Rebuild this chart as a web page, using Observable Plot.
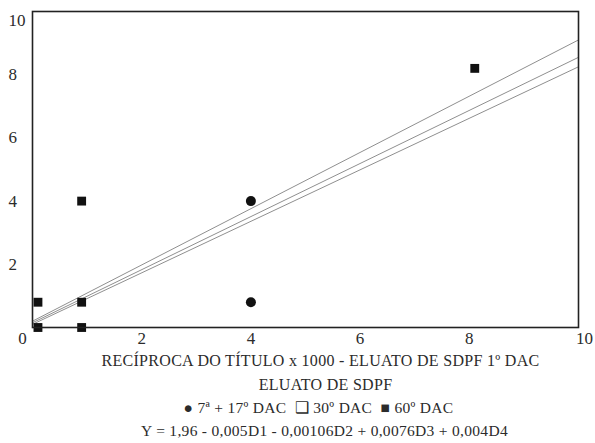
<!DOCTYPE html>
<html>
<head>
<meta charset="utf-8">
<script src="https://cdn.jsdelivr.net/npm/d3@7"></script>
<script src="https://cdn.jsdelivr.net/npm/@observablehq/plot@0.6"></script>
<style>
  html, body { margin: 0; padding: 0; background: #fff; }
  svg { display: block; }
  .cap text { letter-spacing: 0.3px; }
</style>
</head>
<body>
<div id="chart"></div>
<script>
// Data
const groups = ["7º + 17º DAC", "30º DAC", "60º DAC"];
const pointX = [0.1, 0.1, 0.9, 0.9, 0.9, 4.0, 4.0, 8.1];
const pointY = [0.8, 0.0, 0.8, 0.0, 4.0, 4.0, 0.8, 8.2];
const pointGroup = ["60º DAC", "60º DAC", "60º DAC", "60º DAC", "60º DAC", "7º + 17º DAC", "7º + 17º DAC", "60º DAC"];

const lineNames = ["a", "b", "c"];
const lineX = [0, 10];
const lineY_a = [0.2, 9.1];
const lineY_b = [0.15, 8.55];
const lineY_c = [0.1, 8.25];

const xTicksInner = [2, 4, 6, 8];
const yTicksInner = [2, 4, 6, 8];
const xTickStart = [0];
const xTickEnd = [10];
const yTickEnd = [10];

const captionLine1 = "RECÍPROCA DO TÍTULO x 1000 - ELUATO DE SDPF 1º DAC";
const captionLine2 = "ELUATO DE SDPF";
const legendLine = "● 7ª + 17º DAC  ❑ 30º DAC  ■ 60º DAC";
const formulaLine = "Y = 1,96 - 0,005D1 - 0,00106D2 + 0,0076D3 + 0,004D4";

// Build tables
const points = pointX.map((x, i) => ({x, y: pointY[i], g: pointGroup[i]}));
const lineYs = [lineY_a, lineY_b, lineY_c];
const lines = lineNames.flatMap((n, k) => lineX.map((x, i) => ({s: n, x, y: lineYs[k][i]})));

const font = "Liberation Serif";
const ink = "#2b2b2b";
const tick = {tickSize: 0, tickPadding: 0, fontSize: 17, fontFamily: font, fill: ink, label: null};
const cap = {text: d => d, frameAnchor: "bottom", fontFamily: font, fill: ink, className: "cap"};

const chart = Plot.plot({
  width: 595,
  height: 443,
  marginLeft: 32,
  marginRight: 17,
  marginTop: 11,
  marginBottom: 116,
  style: {fontFamily: font, background: "#fff", color: ink},
  x: {domain: [0, 10], axis: null},
  y: {domain: [0, 10], axis: null},
  symbol: {domain: groups, range: ["circle", "square", "square"]},
  marks: [
    Plot.line(lines, {x: "x", y: "y", z: "s", stroke: "#8f8f8f", strokeWidth: 1}),
    Plot.dot(points, {x: "x", y: "y", symbol: "g", fill: "#111", stroke: "none", r: 5}),
    Plot.frame({stroke: "#222", strokeWidth: 1.6}),
    Plot.axisX(xTicksInner, {...tick, dy: 4}),
    Plot.axisX(xTickStart, {...tick, dy: 4, dx: -10}),
    Plot.axisX(xTickEnd, {...tick, dy: 4, dx: 6}),
    Plot.axisY(yTicksInner, {...tick, textAnchor: "start", dx: -24}),
    Plot.axisY(yTickEnd, {...tick, textAnchor: "start", dx: -24, dy: 9}),
    Plot.text([captionLine1], {...cap, fontSize: 16, dy: 38, dx: 15}),
    Plot.text([captionLine2], {...cap, fontSize: 16, dy: 62, dx: 20}),
    Plot.text([legendLine], {...cap, fontSize: 15.5, dy: 85, dx: 13}),
    Plot.text([formulaLine], {...cap, fontSize: 15.5, dy: 108, dx: 19})
  ]
});
document.getElementById("chart").appendChild(chart);
</script>
</body>
</html>
